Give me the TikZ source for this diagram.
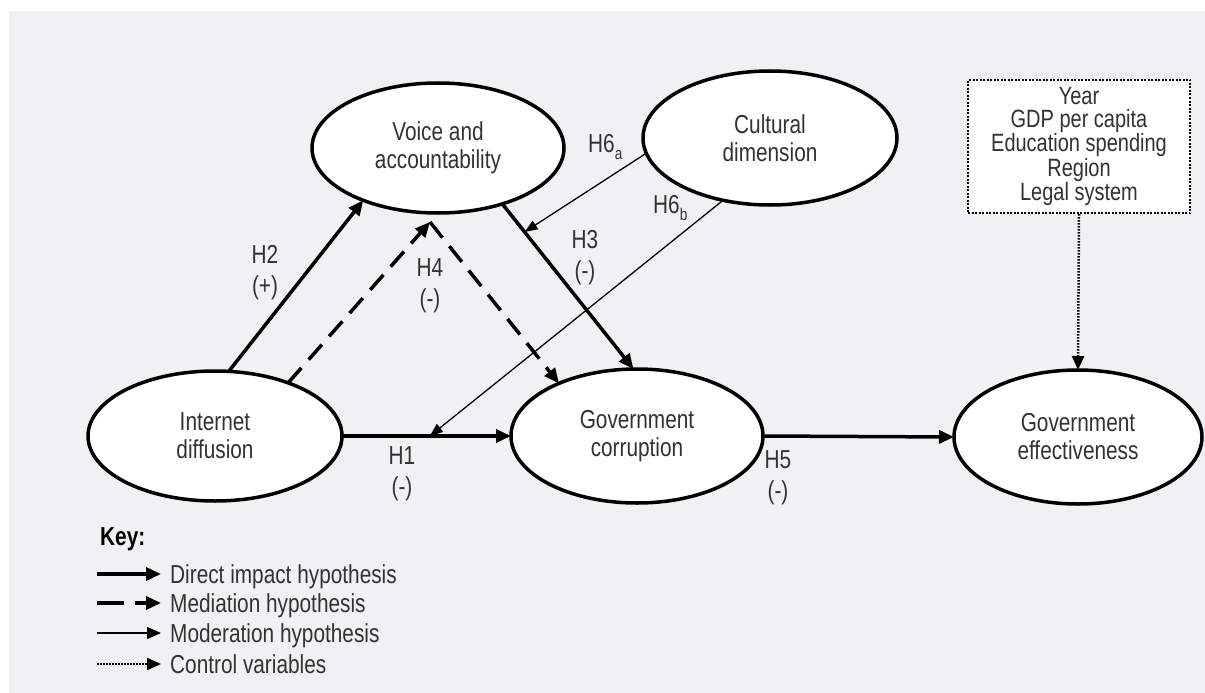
\documentclass[tikz,border=0pt]{standalone}
\usepackage{fontspec}
\setmainfont{Liberation Sans}[FakeStretch=0.8]
\usetikzlibrary{arrows.meta,shapes.geometric,calc}
\definecolor{bg}{RGB}{240,241,243}
\definecolor{txt}{RGB}{50,50,50}
\begin{document}
\begin{tikzpicture}[x=1pt,y=-1pt,
  ell/.style={ellipse, draw=black, line width=3.5pt, fill=white, inner sep=0pt, outer sep=0pt,
    align=center, text=txt, font=\fontsize{26}{28}\selectfont},
  direct/.style={line width=3.5pt, -{Triangle[length=15pt,width=13pt]}},
  med/.style={direct, dash pattern=on 20pt off 11pt},
  mod/.style={line width=1.3pt, -{Triangle[length=13pt,width=10pt]}},
  ctrl/.style={line width=2.5pt, dash pattern=on 1.5pt off 1.5pt, -{Triangle[length=14pt,width=12pt]}},
  lbl/.style={text=txt, align=center, font=\fontsize{26}{31}\selectfont, inner sep=0pt},
  keytxt/.style={text=txt, anchor=base west, font=\fontsize{26}{28}\selectfont, inner sep=0pt}]
\useasboundingbox (0,0) rectangle (1205,693);
\fill[white] (0,0) rectangle (1205,693);
\fill[bg] (9,11) rectangle (1205,693);

% nodes
\node[ell, minimum width=254pt, minimum height=130pt] (int) at (215,436) {Internet\\diffusion};
\node[ell, minimum width=252pt, minimum height=130pt] (voi) at (438,148) {Voice and\\accountability};
\node[ell, minimum width=254pt, minimum height=134pt] (cul) at (770,138) {Cultural\\dimension};
\node[ell, minimum width=252pt, minimum height=134pt] (cor) at (637,436) {Government\\corruption};
\node[ell, minimum width=248pt, minimum height=134pt] (eff) at (1078,437) {Government\\effectiveness};
\node[draw=black, line width=2.2pt, dash pattern=on 2pt off 1.5pt, fill=white,
  minimum width=222pt, minimum height=133pt, inner sep=0pt, align=center, text=txt,
  font=\fontsize{25}{23}\selectfont] (ctl) at (1079,146.5)
  {Year\\GDP per capita\\Education spending\\Region\\Legal system};

\coordinate (apex) at (430,222);

% connectors
\draw[direct] (int.east) -- (cor.west);
\draw[direct] (cor.east) -- (eff.west);
\draw[direct] (int.78.7) -- (voi.215);
\draw[med] (int.36) -- (apex);
\draw[med] (apex) -- (cor.146.5);
\draw[direct] (voi.-41.4) -- (cor.93);
\draw[mod] (cul.187.7) -- ($(voi.-41.4)!0.17!(cor.93)$);
\draw[mod] (cul.233.6) -- ($(int.east)!0.52!(cor.west)$);
\draw[ctrl] (ctl.south) -- (eff.north);

% labels
\node[lbl] (l2) at (265,273) {H2\\(+)};
\node[lbl] (l4) at (430,286) {H4\\(-)};
\node[lbl] (l3) at (585,258) {H3\\(-)};
\node[lbl] (l1) at (402,474) {H1\\(-)};
\node[lbl] (l5) at (778,478) {H5\\(-)};
\node[keytxt] (l6a) at (588,152) {H6\raisebox{-7pt}{\fontsize{17}{17}\selectfont a}};
\node[keytxt] (l6b) at (653,213) {H6\raisebox{-7pt}{\fontsize{17}{17}\selectfont b}};

% key
\node[keytxt, text=black, font=\fontsize{26}{28}\selectfont\bfseries] (key) at (100,545) {Key:};
\coordinate (k1s) at (97,574);  \coordinate (k1e) at (161,574);
\coordinate (k2s) at (97,603);  \coordinate (k2e) at (161,603);
\coordinate (k3s) at (97,633);  \coordinate (k3e) at (161,633);
\coordinate (k4s) at (97,664);  \coordinate (k4e) at (161,664);
\draw[direct] (k1s) -- (k1e);
\draw[direct, dash pattern=on 27pt off 11pt] (k2s) -- (k2e);
\draw[mod, -{Triangle[length=14pt,width=12pt]}] (k3s) -- (k3e);
\draw[ctrl, line width=2pt] (k4s) -- (k4e);
\node[keytxt] (t1) at (170,583) {Direct impact hypothesis};
\node[keytxt] (t2) at (170,612) {Mediation hypothesis};
\node[keytxt] (t3) at (170,642) {Moderation hypothesis};
\node[keytxt] (t4) at (170,673) {Control variables};
\end{tikzpicture}
\end{document}
